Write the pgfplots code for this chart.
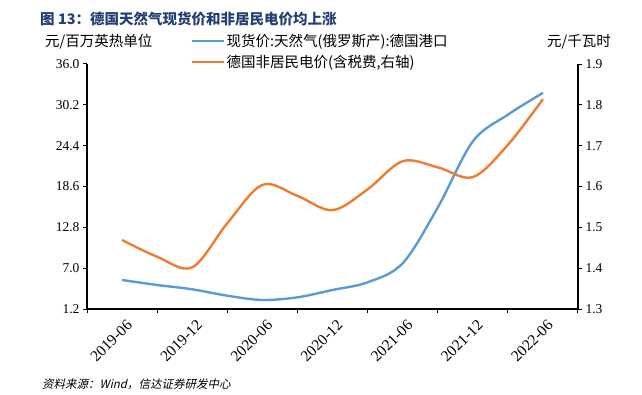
\documentclass[border=0pt]{standalone}
\usepackage{fontspec}
\setmainfont{Liberation Serif}
\newfontfamily\cjk{Noto Sans CJK SC}
\newfontfamily\cjkit[FakeSlant=0.22]{Noto Sans CJK SC}
\usepackage{pgfplots}
\pgfplotsset{compat=1.18}
\definecolor{bl}{HTML}{5B9BD5}
\definecolor{orr}{HTML}{ED7D31}
\definecolor{tt}{HTML}{243F73}
\pgfplotstableread{
x gas
0   5.32
0.5 4.61
1   4.00
1.5 3.09
2   2.48
2.5 2.86
3   3.90
3.5 4.99
4   7.69
4.5 15.6
5   25.0
5.5 28.8
6   31.9
}\gas
\pgfplotstableread{
x ele
0   1.469
0.5 1.428
1   1.402
1.5 1.510
2   1.604
2.5 1.577
3   1.542
3.5 1.593
4   1.662
4.5 1.647
5   1.623
5.5 1.702
6   1.814
}\ele
\pgfplotsset{
  myax/.style={
    scale only axis,
    width=491pt, height=245pt,
    xmin=-0.5, xmax=6.5,
    tick align=outside, major tick length=4pt,
    axis line style={-, line width=1.1pt, black},
    tick style={line width=1pt, black},
    tick label style={font=\fontsize{13.5}{13.5}\selectfont},
    yticklabel style={/pgf/number format/.cd, fixed, fixed zerofill, precision=1, assume math mode=true},
  }
}
\begin{document}
\begin{tikzpicture}
\path[use as bounding box] (0,0) rectangle (642pt,394pt);
\begin{axis}[myax, at={(87pt,85pt)}, anchor=south west,
  ymin=1.2, ymax=36,
  ytick={1.2,7,12.8,18.6,24.4,30.2,36},
  axis y line*=left, axis x line*=bottom,
  xtick={-0.5,0.5,...,6.5},
  x tick label as interval,
  xticklabels={2019-06,2019-12,2020-06,2020-12,2021-06,2021-12,2022-06},
  xticklabel style={rotate=45, anchor=east, font=\fontsize{15.5}{15.5}\selectfont, xshift=2pt, yshift=-12pt},
]
\addplot[bl, line width=2.4pt, smooth, tension=0.55] table[x=x,y=gas] {\gas};
\end{axis}
\begin{axis}[myax, at={(87pt,85pt)}, anchor=south west,
  ymin=1.3, ymax=1.9,
  ytick={1.3,1.4,...,1.9},
  axis y line*=right, axis x line=none,
  xtick=\empty,
  legend style={at={(rel axis cs:0.21,1.13)}, anchor=north west, draw=none, fill=none,
    inner sep=0pt, row sep=3pt, font=\cjk\fontsize{14.5}{14.5}\selectfont},
  legend cell align=left,
  legend image code/.code={\draw[#1] (0pt,0pt) -- (32pt,0pt);},
]
\addlegendimage{bl, line width=2.4pt}
\addlegendentry{现货价:天然气(俄罗斯产):德国港口}
\addplot[orr, line width=2.4pt, smooth, tension=0.55] table[x=x,y=ele] {\ele};
\addlegendentry{德国非居民电价(含税费,右轴)}
\end{axis}
\node[anchor=west, inner sep=0pt, text=tt, font=\cjk\bfseries\fontsize{14.5}{14.5}\selectfont] at (40pt,375pt) {图 13：德国天然气现货价和非居民电价均上涨};
\node[anchor=west, inner sep=0pt, font=\cjk\fontsize{14.5}{14.5}\selectfont] at (45pt,352pt) {元/百万英热单位};
\node[anchor=east, inner sep=0pt, font=\cjk\fontsize{14.5}{14.5}\selectfont] at (611pt,352pt) {元/千瓦时};
\node[anchor=west, inner sep=0pt, font=\cjkit\fontsize{11.5}{11.5}\selectfont] at (42pt,10pt) {资料来源：Wind，信达证券研发中心};
\end{tikzpicture}
\end{document}
